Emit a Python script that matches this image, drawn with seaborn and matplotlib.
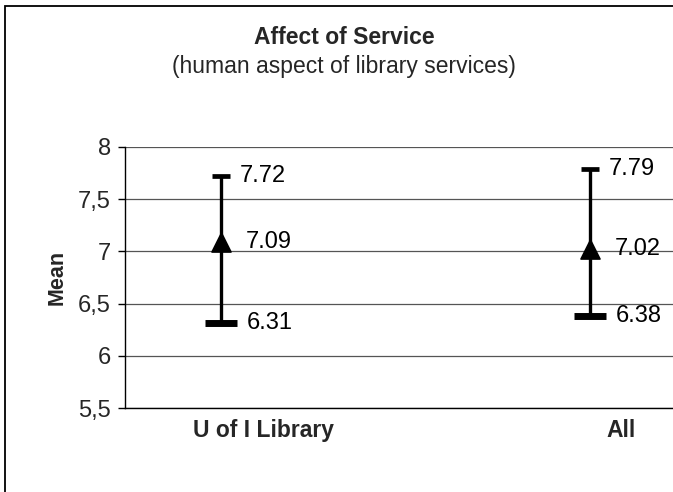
import matplotlib
matplotlib.use("Agg")
import matplotlib.pyplot as plt
import matplotlib.patches as mpatches
from matplotlib.ticker import FuncFormatter
import seaborn as sns
import pandas as pd

categories = ["U of I Library", "All"]
high = [7.72, 7.79]
mean = [7.09, 7.02]
low = [6.31, 6.38]
y_ticks = [5.5, 6, 6.5, 7, 7.5, 8]

sns.set_theme(style="white")
plt.rcParams['font.family'] = ['Liberation Sans', 'DejaVu Sans']

df = pd.DataFrame({"pos": [0, 1], "cat": categories, "high": high, "mean": mean, "low": low})

fig = plt.figure(figsize=(6.73, 4.92), dpi=100)
ax = fig.add_axes([125/673, 84/492, 548/673, 261/492])

# gridlines
ax.set_ylim(5.5, 8)
ax.set_xlim(-0.26, 1.225)
ax.set_yticks(y_ticks)
ax.yaxis.grid(True, color="#555555", linewidth=0.9)
ax.set_axisbelow(True)

# vertical high-low lines
ax.vlines(df["pos"], df["low"], df["high"], color="black", linewidth=2.4, zorder=3)
# high and low ticks
sns.scatterplot(data=df, x="pos", y="high", marker="_", s=150, linewidth=3.4, color="black", ax=ax, zorder=4)
sns.scatterplot(data=df, x="pos", y="low", marker="_", s=530, linewidth=5, color="black", ax=ax, zorder=4)
# mean markers
sns.scatterplot(data=df, x="pos", y="mean", marker="^", s=190, color="black", edgecolor="black", ax=ax, zorder=5)

for _, r in df.iterrows():
    for col, dx in (("high", 13.5), ("mean", 18), ("low", 18.5)):
        ax.annotate(f"{r[col]:.2f}", (r["pos"], r[col]), xytext=(dx, 0), textcoords="offset points",
                    ha="left", va="center", fontsize=17, color="black")

ax.yaxis.set_major_formatter(FuncFormatter(lambda v, p: (f"{v:g}").replace(".", ",")))
ax.set_xticks([0.1165, 1.084], categories)
ax.tick_params(axis="x", length=0, pad=8, labelsize=16.5)
for t in ax.get_xticklabels():
    t.set_fontweight("bold")
ax.tick_params(axis="y", left=True, length=5, width=1, color="black", labelsize=17, pad=5)
ax.set_xlabel("")
ax.set_ylabel("Mean", fontsize=15.5, fontweight="bold", labelpad=8)

for s in ("top", "right"):
    ax.spines[s].set_visible(False)
for s in ("left", "bottom"):
    ax.spines[s].set_color("black")
    ax.spines[s].set_linewidth(1)

fig.text(344/673, 1 - 38/492, "Affect of Service", ha="center", va="center", fontsize=16.5, fontweight="bold")
fig.text(344/673, 1 - 67/492, "(human aspect of library services)", ha="center", va="center", fontsize=16.5)

fig.patches.append(mpatches.Rectangle((5/673, -0.1), 1.2, 1 - 6/492 + 0.1, transform=fig.transFigure,
                                      fill=False, edgecolor="black", linewidth=1.3))

fig.savefig("out.png", dpi=100)
